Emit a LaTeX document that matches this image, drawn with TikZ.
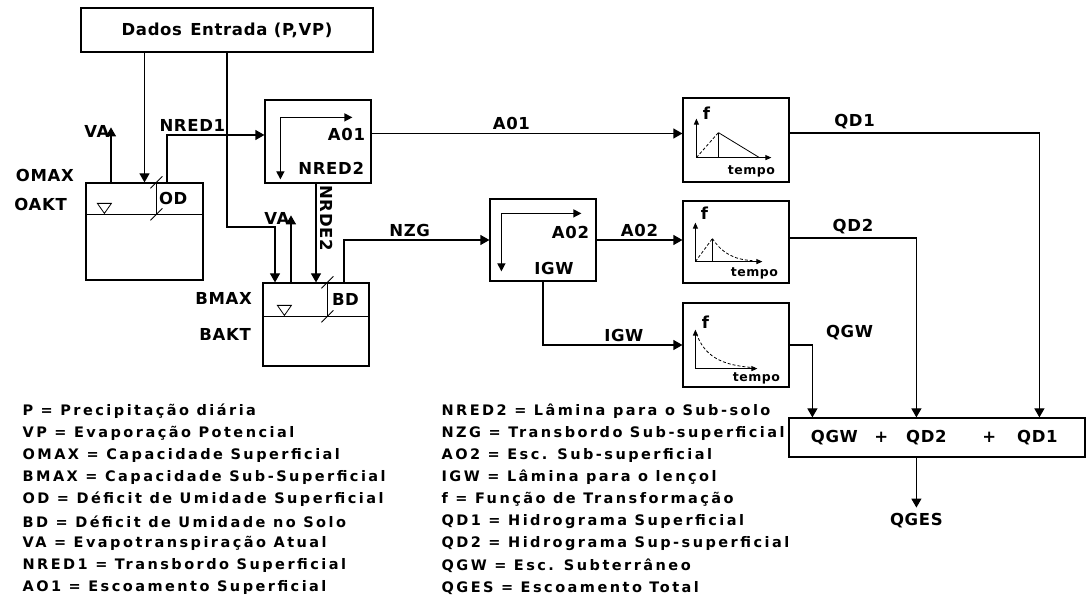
\documentclass[tikz,border=0pt]{standalone}
\usepackage{fontspec}
\setmainfont{DejaVu Sans}[LetterSpace=4]
\newfontfamily\legfont{DejaVu Sans}[LetterSpace=17]
\usetikzlibrary{arrows.meta,calc}

\tikzset{
  blk/.style={draw,line width=1.2pt,inner sep=0pt},
  arr/.style={-{Triangle[width=10pt,length=9pt]}},
  darr/.style={{Triangle[width=8pt,length=8pt]}-{Triangle[width=8pt,length=8pt]}},
  axis/.style={line width=1pt,-{Triangle[width=5pt,length=6pt]}},
  lbl/.style={font=\bfseries\fontsize{16.5}{18}\selectfont,inner sep=1pt},
  tlbl/.style={font=\bfseries\fontsize{12.5}{14}\selectfont,inner sep=0pt},
  leg/.style={anchor=west,inner sep=0pt,font=\legfont\bfseries\fontsize{14.5}{16}\selectfont},
}
\newcommand{\dimtick}[1]{\draw[line width=0.8pt] ($(#1)+(-6,6)$) -- ($(#1)+(6,-6)$);}

\begin{document}
\begin{tikzpicture}[x=1pt,y=-1pt,line width=1.2pt]
  \useasboundingbox (0,0) rectangle (1087,609);
  % blocos
  \node[blk,lbl,minimum width=292pt,minimum height=44pt] (dados) at (227,30) {Dados\enspace Entrada (P,VP)};
  \node[blk,minimum width=117pt,minimum height=97pt] (tankO) at (144.5,231.5) {};
  \node[blk,minimum width=106pt,minimum height=83pt] (boxA1) at (318,141.5) {};
  \node[blk,minimum width=106pt,minimum height=83pt] (tankB) at (316,324.5) {};
  \node[blk,minimum width=106pt,minimum height=82pt] (boxA2) at (543,240) {};
  \node[blk,minimum width=106pt,minimum height=84pt] (f1) at (736,140) {};
  \node[blk,minimum width=106pt,minimum height=82pt] (f2) at (736,242) {};
  \node[blk,minimum width=106pt,minimum height=84pt] (f3) at (736,345) {};
  \node[blk,minimum width=296pt,minimum height=39pt] (soma) at (937,437.5) {};

  % reservatorio superficial
  \node[lbl,anchor=east] (omax) at ($(tankO.north west)+(-10,-7)$) {OMAX};
  \node[lbl,anchor=east] (oakt) at ($(tankO.north west)+(-17,22)$) {OAKT};
  \draw ($(tankO.north west)+(0,32)$) -- ($(tankO.north east)+(0,32)$);
  \draw[line width=0.8pt] ($(tankO.north west)+(12,21)$) -- ++(14,0) -- ++(-7,10) -- cycle;
  \coordinate (odT) at ($(tankO.north west)+(71,0)$);
  \coordinate (odB) at ($(tankO.north west)+(71,32)$);
  \draw (odT) -- (odB) node[lbl,midway,right=1pt] {OD};
  \dimtick{odT}
  \dimtick{odB}

  % reservatorio sub-superficial
  \node[lbl,anchor=east] (bmax) at ($(tankB.north west)+(-9,16)$) {BMAX};
  \node[lbl,anchor=east] (bakt) at ($(tankB.north west)+(-10,52)$) {BAKT};
  \draw ($(tankB.north west)+(0,34)$) -- ($(tankB.north east)+(0,34)$);
  \draw[line width=0.8pt] ($(tankB.north west)+(15,23)$) -- ++(14,0) -- ++(-7,10) -- cycle;
  \coordinate (bdT) at ($(tankB.north west)+(65,0)$);
  \coordinate (bdB) at ($(tankB.north west)+(65,34)$);
  \draw (bdT) -- (bdB) node[lbl,midway,right=3pt] {BD};
  \dimtick{bdT}
  \dimtick{bdB}

  % entradas
  \coordinate (jB) at (275,227);
  \draw[arr] (dados.south -| tankO.north) -- (tankO.north);
  \draw[arr] (dados.south) |- (jB) -- (jB |- tankB.north);
  \draw[arr] ($(tankO.north)+(-33.5,0)$) -- ++(0,-55) node[lbl,anchor=east,yshift=-4pt] {VA};
  \draw[arr] ($(tankB.north)+(-25,0)$) -- ++(0,-67) node[lbl,anchor=east,yshift=-3pt] {VA};

  % NRED1 / NRED2
  \draw[arr] ($(tankO.north)+(22.5,0)$) |- ($(boxA1.west)+(0,-6.5)$) node[lbl,pos=0.63,above=2pt] {NRED1};
  \draw[darr] ($(boxA1.north west)+(16,80)$) |- ($(boxA1.north west)+(88,18)$);
  \node[lbl,anchor=east] (a1in) at ($(boxA1.east)+(-5,-7)$) {A01};
  \node[lbl,anchor=east] (nred2) at ($(boxA1.south east)+(-6,-15)$) {NRED2};
  \draw[arr] (boxA1.south -| tankB.north) -- (tankB.north)
    node[lbl,pos=0.35,anchor=south,rotate=-90,inner sep=4pt] {NRDE2};

  % NZG
  \draw[arr] ($(tankB.north)+(28,0)$) |- (boxA2.west) node[lbl,pos=0.726,above=2pt] {NZG};
  \draw[darr] ($(boxA2.north west)+(12,73)$) |- ($(boxA2.north west)+(92,15)$);
  \node[lbl,anchor=east] (a2in) at ($(boxA2.east)+(-6,-8)$) {A02};
  \node[lbl] (igwin) at ($(boxA2.south)+(11,-13)$) {IGW};

  % para as funcoes
  \coordinate (a1out) at ($(boxA1.east)+(0,-8)$);
  \draw[arr] (a1out) -- (a1out -| f1.west) node[lbl,pos=0.45,above=2pt] {A01};
  \draw[arr] (boxA2.east) -- (boxA2.east -| f2.west) node[lbl,midway,above=2pt] {A02};
  \draw[arr] (boxA2.south) |- (f3.west) node[lbl,pos=0.79,above=2pt] {IGW};

  % funcoes de transformacao
  \begin{scope}[shift={(f1.south west)}]
    \draw[axis] (14,-25) -- (14,-64);
    \draw[axis] (14,-25) -- (89,-25);
    \draw[line width=0.8pt,densely dashed] (14,-25) -- (36,-50);
    \draw[line width=0.8pt] (36,-50) -- (77,-25);
    \draw[line width=0.8pt] (36,-50) -- (36,-25);
    \node[lbl] at (24,-69) {f};
    \node[tlbl] at (69,-11) {tempo};
  \end{scope}
  \begin{scope}[shift={(f2.south west)}]
    \draw[axis] (13,-22) -- (13,-61);
    \draw[axis] (13,-22) -- (80,-22);
    \draw[line width=0.8pt,densely dashed] (13,-22) -- (30,-45);
    \draw[line width=0.8pt] (30,-45) -- (30,-22);
    \draw[line width=0.8pt,densely dashed] (30,-45) .. controls (40,-30) and (52,-24) .. (70,-23);
    \node[lbl] at (22,-70) {f};
    \node[tlbl] at (72,-10) {tempo};
  \end{scope}
  \begin{scope}[shift={(f3.south west)}]
    \draw[axis] (13,-19) -- (13,-58);
    \draw[axis] (13,-19) -- (75,-19);
    \draw[line width=0.8pt,densely dashed] (14,-54) .. controls (22,-32) and (38,-22) .. (72,-20);
    \node[lbl] at (23,-65) {f};
    \node[tlbl] at (74,-9) {tempo};
  \end{scope}

  % soma
  \node[lbl] (sQGW) at ($(soma.west)+(46,0)$) {QGW};
  \node[lbl] (sp1) at ($(soma.west)+(93,0)$) {+};
  \node[lbl] (sQD2) at ($(soma.west)+(138,0)$) {QD2};
  \node[lbl] (sp2) at ($(soma.west)+(201,0)$) {+};
  \node[lbl] (sQD1) at ($(soma.west)+(249,0)$) {QD1};
  \coordinate (inGW) at ($(soma.north west)+(24,0)$);
  \coordinate (inD2) at ($(soma.north west)+(128,0)$);
  \coordinate (inD1) at ($(soma.north west)+(251,0)$);
  \coordinate (f1out) at ($(f1.east)+(0,-7)$);
  \coordinate (f2out) at ($(f2.east)+(0,-4)$);
  \draw[arr] (f1out) -| (inD1) node[lbl,pos=0.13,above=2pt] {QD1};
  \draw[arr] (f2out) -| (inD2) node[lbl,pos=0.25,above=2pt] {QD2};
  \draw[arr] (f3.east) -| (inGW) node[lbl,pos=0.5,anchor=south west,xshift=12pt,yshift=3pt] {QGW};
  \draw[arr] (soma.south -| inD2) -- ++(0,50) node[lbl,below=4pt] {QGES};

  % legenda
  \node[leg] (leg1) at (22,411) {P = Precipitação diária};
  \node[leg] (leg2) at (22,433.1) {VP = Evaporação Potencial};
  \node[leg] (leg3) at (22,455.2) {OMAX = Capacidade Superficial};
  \node[leg] (leg4) at (22,477.3) {BMAX = Capacidade Sub-Superficial};
  \node[leg] (leg5) at (22,499.4) {OD = Déficit de Umidade Superficial};
  \node[leg] (leg6) at (22,521.5) {BD = Déficit de Umidade no Solo};
  \node[leg] (leg7) at (22,543.6) {VA = Evapotranspiração Atual};
  \node[leg] (leg8) at (22,565.7) {NRED1 = Transbordo Superficial};
  \node[leg] (leg9) at (22,587.8) {AO1 = Escoamento Superficial};
  \node[leg] (leg10) at (441,411) {NRED2 = Lâmina para o Sub-solo};
  \node[leg] (leg11) at (441,433.1) {NZG = Transbordo Sub-superficial};
  \node[leg] (leg12) at (441,455.2) {AO2 = Esc. Sub-superficial};
  \node[leg] (leg13) at (441,477.3) {IGW = Lâmina para o lençol};
  \node[leg] (leg14) at (441,499.4) {f = Função de Transformação};
  \node[leg] (leg15) at (441,521.5) {QD1 = Hidrograma Superficial};
  \node[leg] (leg16) at (441,543.6) {QD2 = Hidrograma Sup-superficial};
  \node[leg] (leg17) at (441,565.7) {QGW = Esc. Subterrâneo};
  \node[leg] (leg18) at (441,587.8) {QGES = Escoamento Total};
\end{tikzpicture}
\end{document}
